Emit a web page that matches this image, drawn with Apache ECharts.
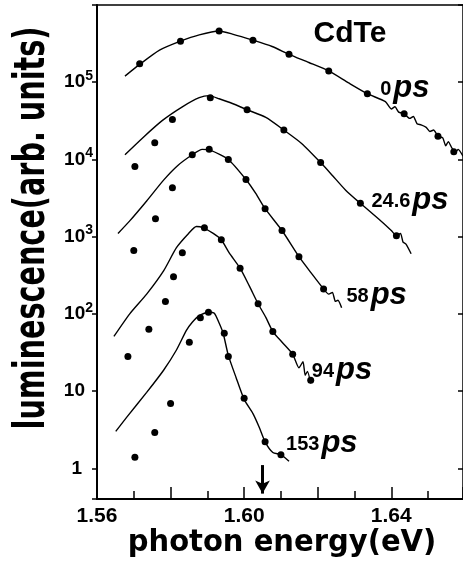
<!DOCTYPE html>
<html>
<head>
<meta charset="utf-8">
<script src="https://cdn.jsdelivr.net/npm/echarts@6/dist/echarts.min.js"></script>
<style>
html, body { margin: 0; padding: 0; background: #fff; }
#chart { width: 463px; height: 567px; }
</style>
</head>
<body>
<div id="chart"></div>
<script>
// 曲线数据 [photon energy (eV), luminescence]
const line0ps = [[1.5676,1.2e5],[1.5716,1.7e5],[1.5770,2.6e5],[1.5827,3.4e5],[1.5878,4.1e5],[1.5932,4.6e5],[1.5968,4.2e5],[1.6024,3.5e5],[1.6076,2.9e5],[1.6122,2.3e5],[1.6176,1.8e5],[1.6230,1.4e5],[1.6284,9.8e4],[1.6335,7.1e4],[1.6384,5.6e4],[1.6400,4.5e4],[1.6410,4.8e4],[1.6420,4.1e4],[1.6435,3.9e4],[1.6450,3.4e4],[1.6460,3.6e4],[1.6470,2.9e4],[1.6481,2.8e4],[1.6495,2.6e4],[1.6505,2.3e4],[1.6515,2.4e4],[1.6527,2.0e4],[1.6540,1.9e4],[1.6548,1.5e4],[1.6555,1.7e4],[1.6565,1.4e4],[1.6575,1.25e4],[1.6582,1.35e4],[1.6595,1.1e4]];
const line24ps = [[1.5676,1.15e4],[1.5724,1.9e4],[1.5778,3.2e4],[1.5832,4.8e4],[1.5878,6.3e4],[1.5905,6.7e4],[1.5932,6.1e4],[1.5968,5.3e4],[1.6008,4.4e4],[1.6059,3.5e4],[1.6108,2.4e4],[1.6157,1.6e4],[1.6208,9.1e3],[1.6240,6.2e3],[1.6276,4.0e3],[1.6316,2.7e3],[1.6365,1.7e3],[1.6400,1.2e3],[1.6414,1.03e3],[1.6425,1.1e3],[1.6432,850],[1.6440,800],[1.6454,600]];
const line58ps = [[1.5657,1.1e3],[1.5689,1.6e3],[1.5735,2.9e3],[1.5781,5.4e3],[1.5819,8.3e3],[1.5859,1.15e4],[1.5886,1.35e4],[1.5911,1.3e4],[1.5957,1.0e4],[1.6005,5.5e3],[1.6032,3.6e3],[1.6057,2.3e3],[1.6103,1.2e3],[1.6149,550],[1.6184,330],[1.6216,210],[1.6230,180],[1.6240,190],[1.6248,145],[1.6255,150],[1.6265,120]];
const line94ps = [[1.5646,51],[1.5689,100],[1.5735,180],[1.5781,360],[1.5816,720],[1.5849,1.1e3],[1.5870,1.35e3],[1.5889,1.3e3],[1.5916,1.1e3],[1.5938,910],[1.5959,620],[1.5989,390],[1.6014,230],[1.6038,135],[1.6059,90],[1.6078,59],[1.6105,42],[1.6132,30],[1.6149,20],[1.6160,24],[1.6166,16],[1.6172,18],[1.6181,12.6]];
const line153ps = [[1.5651,3.0],[1.5681,4.6],[1.5735,9.6],[1.5781,18.6],[1.5816,34],[1.5843,61],[1.5859,78],[1.5878,95],[1.5903,105],[1.5919,102],[1.5932,76],[1.5943,56],[1.5957,29],[1.5978,15],[1.6000,7.8],[1.6024,5.1],[1.6041,3.4],[1.6057,2.2],[1.6078,1.6],[1.6100,1.5],[1.6122,1.23]];

// 数据点
const dots0ps = [[1.5716,1.74e5],[1.5827,3.4e5],[1.5932,4.6e5],[1.6024,3.5e5],[1.6122,2.3e5],[1.6230,1.4e5],[1.6335,7.1e4],[1.6435,3.9e4],[1.6527,2.0e4],[1.6570,1.26e4]];
const dots24ps = [[1.5703,8.1e3],[1.5757,1.65e4],[1.5805,3.3e4],[1.5908,6.3e4],[1.6008,4.4e4],[1.6108,2.4e4],[1.6208,9.1e3],[1.6316,2.7e3],[1.6414,1.03e3]];
const dots58ps = [[1.5700,660],[1.5759,1.7e3],[1.5805,4.3e3],[1.5859,1.15e4],[1.5905,1.35e4],[1.5957,1.0e4],[1.6005,5.5e3],[1.6057,2.3e3],[1.6103,1.2e3],[1.6149,550],[1.6216,210]];
const dots94ps = [[1.5684,28],[1.5741,63],[1.5786,144],[1.5808,303],[1.5832,620],[1.5892,1.3e3],[1.5938,910],[1.5989,390],[1.6038,135],[1.6078,59],[1.6132,30],[1.6181,13.8]];
const dots153ps = [[1.5703,1.39],[1.5757,2.9],[1.5800,6.9],[1.5851,43],[1.5881,89],[1.5903,105],[1.5946,56],[1.5957,28],[1.6000,8.1],[1.6057,2.2],[1.6100,1.5]];

// 延迟时间标注
const delayLabels = ['0', '24.6', '58', '94', '153'];
const labelAt = [[1.6370,8.2e4],[1.6346,2.93e3],[1.6278,173],[1.6184,18.5],[1.6114,2.1]];

// 刻度
const xTickLabels = [1.56, 1.60, 1.64];
const arrowEnergy = 1.605;

const lines = [line0ps, line24ps, line58ps, line94ps, line153ps];
const dots = [dots0ps, dots24ps, dots58ps, dots94ps, dots153ps];

const chart = echarts.init(document.getElementById('chart'));

const series = [];
lines.forEach(function (d) {
    series.push({
        type: 'line', data: d, showSymbol: false, smooth: 0.2,
        lineStyle: { color: '#000', width: 1.4 }, silent: true
    });
});
dots.forEach(function (d) {
    series.push({
        type: 'scatter', data: d, symbol: 'circle', symbolSize: 7,
        itemStyle: { color: '#000', opacity: 1 }, silent: true
    });
});
// 标注文字
series.push({
    type: 'scatter', symbolSize: 0, silent: true,
    itemStyle: { color: '#000', opacity: 1 },
    data: labelAt.map(function (p, i) { return { value: p, name: delayLabels[i] }; }),
    label: {
        show: true, position: 'right', distance: 0, color: '#000',
        formatter: function (p) { return '{n|' + p.name + '}{p|ps}'; },
        rich: {
            n: { color: '#000', fontFamily: 'Liberation Sans', fontWeight: 'bold', fontSize: 20, padding: [2, 2, 0, 0] },
            p: { color: '#000', fontFamily: 'Liberation Sans', fontStyle: 'italic', fontWeight: 'bold', fontSize: 31 }
        }
    },
    markLine: {
        silent: true, symbol: ['none', 'arrow'], symbolSize: [11, 13],
        lineStyle: { color: '#000', width: 3, type: 'solid', opacity: 1 },
        label: { show: false },
        data: [[{ coord: [arrowEnergy, 1.1] }, { coord: [arrowEnergy, 0.47] }]]
    }
});

function yLabel(v) {
    const e = Math.log10(v);
    const n = Math.round(e);
    if (Math.abs(e - n) > 1e-6 || n < 0 || n > 5) return '';
    if (n === 0) return '{b|1}{e1| }';
    if (n === 1) return '{b|10}{e| }';
    return '{b|10}{s|' + n + '}';
}

const yCommon = {
    type: 'log', logBase: 10, min: 0.4, max: 1e6, splitNumber: 6,
    splitLine: { show: false }
};

chart.setOption({
    animation: false,
    backgroundColor: '#fff',
    grid: {
        left: 97, top: 5, width: 368, height: 494,
        show: true, borderColor: '#000', borderWidth: 1.5
    },
    xAxis: {
        type: 'value', min: 1.56, max: 1.6595, interval: 0.02,
        axisLine: { lineStyle: { color: '#000', width: 2 } },
        axisTick: { inside: true, length: 12, lineStyle: { color: '#000', width: 1.5 } },
        minorTick: { show: true, splitNumber: 2, length: 8, lineStyle: { color: '#000', width: 1.5 } },
        splitLine: { show: false },
        axisLabel: {
            margin: 7, color: '#000', fontFamily: 'Liberation Sans', fontWeight: 'bold', fontSize: 21,
            showMaxLabel: false,
            formatter: function (v) {
                const ok = xTickLabels.some(function (t) { return Math.abs(t - v) < 1e-6; });
                return ok ? v.toFixed(2) : '';
            }
        }
    },
    yAxis: [
        Object.assign({}, yCommon, {
            position: 'left',
            axisLine: { lineStyle: { color: '#000', width: 2 } },
            axisTick: { inside: false, length: 5, lineStyle: { color: '#000', width: 1.5 } },
            axisLabel: {
                margin: 4, align: 'right', color: '#000', formatter: yLabel,
                rich: {
                    b: { color: '#000', fontFamily: 'Liberation Sans', fontWeight: 'bold', fontSize: 19, lineHeight: 26 },
                    s: { color: '#000', fontFamily: 'Liberation Sans', fontWeight: 'bold', fontSize: 14, lineHeight: 14, verticalAlign: 'top' },
                    e: { width: 8 },
                    e1: { width: 11 }
                }
            }
        }),
        Object.assign({}, yCommon, {
            position: 'right',
            axisLine: { show: false },
            axisTick: { inside: true, length: 5, lineStyle: { color: '#000', width: 1.5 } },
            axisLabel: { show: false }
        })
    ],
    graphic: [
        {
            type: 'text', x: 33, y: 228, rotation: Math.PI / 2, scaleX: 0.683, silent: true,
            style: {
                text: 'luminescence(arb. units)', fill: '#000',
                font: 'bold 42px "DejaVu Sans"', align: 'center', verticalAlign: 'middle'
            }
        },
        {
            type: 'text', x: 282, y: 543, scaleX: 0.936, silent: true,
            style: {
                text: 'photon energy(eV)', fill: '#000',
                font: 'bold 31px "DejaVu Sans"', align: 'center', verticalAlign: 'middle'
            }
        },
        {
            type: 'text', x: 350, y: 34, silent: true,
            style: {
                text: 'CdTe', fill: '#000',
                font: 'bold 30px "Liberation Sans"', align: 'center', verticalAlign: 'middle'
            }
        }
    ],
    series: series
});
</script>
</body>
</html>
